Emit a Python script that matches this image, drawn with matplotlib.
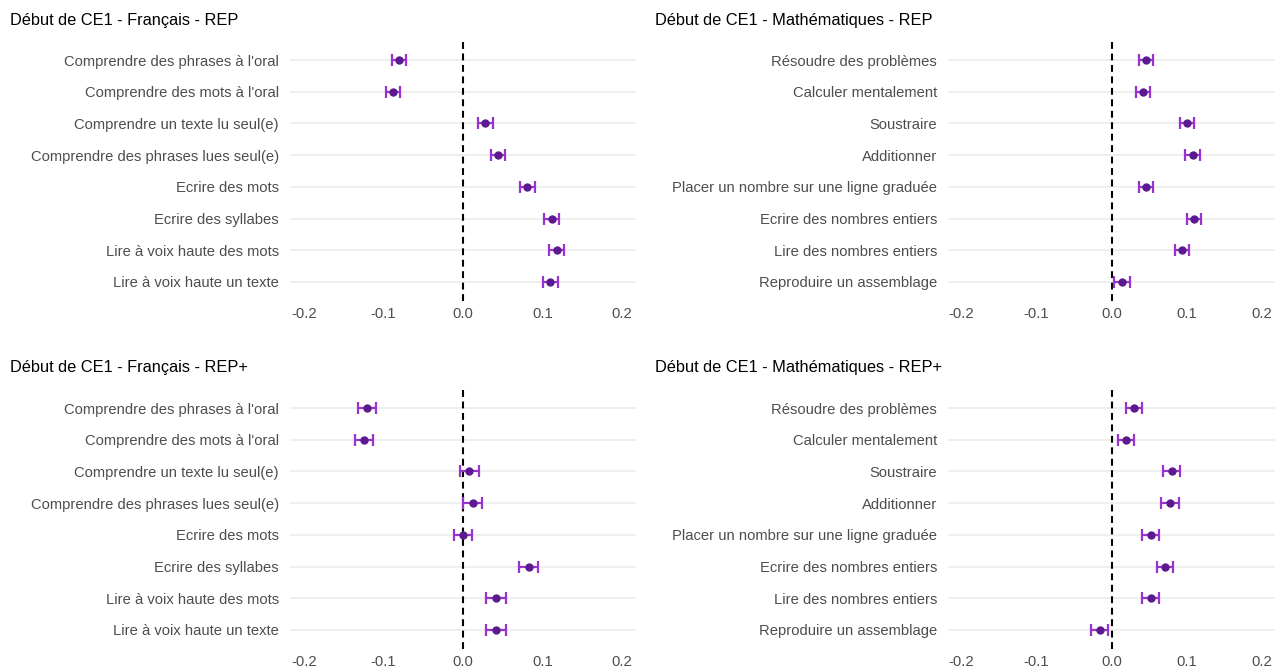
import matplotlib.pyplot as plt
import numpy as np

plt.rcParams["font.family"] = ["Liberation Sans", "DejaVu Sans"]

W, H = 1277, 670

# Skills, top to bottom
fr_labels = [
    "Comprendre des phrases à l'oral",
    "Comprendre des mots à l'oral",
    "Comprendre un texte lu seul(e)",
    "Comprendre des phrases lues seul(e)",
    "Ecrire des mots",
    "Ecrire des syllabes",
    "Lire à voix haute des mots",
    "Lire à voix haute un texte",
]
ma_labels = [
    "Résoudre des problèmes",
    "Calculer mentalement",
    "Soustraire",
    "Additionner",
    "Placer un nombre sur une ligne graduée",
    "Ecrire des nombres entiers",
    "Lire des nombres entiers",
    "Reproduire un assemblage",
]

# Estimates and half-width of the confidence interval
fr_rep = [-0.081, -0.088, 0.028, 0.044, 0.081, 0.112, 0.118, 0.110]
fr_rep_err = [0.009, 0.009, 0.0095, 0.009, 0.0095, 0.0095, 0.0095, 0.0095]
ma_rep = [0.046, 0.042, 0.101, 0.108, 0.046, 0.110, 0.094, 0.014]
ma_rep_err = [0.0095, 0.0095, 0.0095, 0.0095, 0.0095, 0.0095, 0.0095, 0.0105]
fr_repp = [-0.121, -0.125, 0.008, 0.012, 0.000, 0.083, 0.042, 0.042]
fr_repp_err = [0.011, 0.011, 0.012, 0.012, 0.0115, 0.012, 0.0128, 0.0128]
ma_repp = [0.030, 0.019, 0.080, 0.078, 0.052, 0.071, 0.052, -0.016]
ma_repp_err = [0.0105, 0.0105, 0.0115, 0.0115, 0.011, 0.011, 0.011, 0.0115]

panels = [
    ("Début de CE1 - Français - REP", fr_labels, fr_rep, fr_rep_err),
    ("Début de CE1 - Mathématiques - REP", ma_labels, ma_rep, ma_rep_err),
    ("Début de CE1 - Français - REP+", fr_labels, fr_repp, fr_repp_err),
    ("Début de CE1 - Mathématiques - REP+", ma_labels, ma_repp, ma_repp_err),
]

# pixel boxes: left, right, top, bottom; title x, title y
boxes = [
    (290, 636, 41, 301, 10, 21),
    (948, 1275, 41, 301, 655, 21),
    (290, 636, 389, 649, 10, 367),
    (948, 1275, 389, 649, 655, 367),
]

fig = plt.figure(figsize=(W / 100, H / 100), dpi=100)

for (title, labels, est, err), (x0, x1, y0, y1, tx, ty) in zip(panels, boxes):
    ax = fig.add_axes([x0 / W, 1 - y1 / H, (x1 - x0) / W, (y1 - y0) / H])
    y = np.arange(1, len(labels) + 1)
    for yy in y:
        ax.axhline(yy, color="#ebebeb", lw=1.1, zorder=0)
    ax.axvline(0, color="black", lw=1.5, ls=(0, (3.3, 2.2)), zorder=1)
    ax.errorbar(est, y, xerr=err, fmt="none", ecolor="#9a32cd", elinewidth=1.6,
                capsize=4.2, capthick=1.6, zorder=2)
    ax.plot(est, y, "o", color="#5b1a8e", ms=5, zorder=3)
    ax.set_xlim(-0.218, 0.218)
    ax.set_ylim(8.6, 0.4)
    ax.set_yticks(y)
    ax.set_yticklabels(labels)
    ax.set_xticks([-0.2, -0.1, 0.0, 0.1, 0.2])
    ax.set_xticklabels(["-0.2", "-0.1", "0.0", "0.1", "0.2"])
    ax.tick_params(length=0, labelsize=10.6, labelcolor="#4d4d4d")
    ax.tick_params(axis="y", pad=8)
    ax.tick_params(axis="x", pad=4.5)
    for s in ax.spines.values():
        s.set_visible(False)
    fig.text(tx / W, 1 - ty / H, title, fontsize=11.8, color="black",
             ha="left", va="center")

fig.savefig("out.png", dpi=100)
